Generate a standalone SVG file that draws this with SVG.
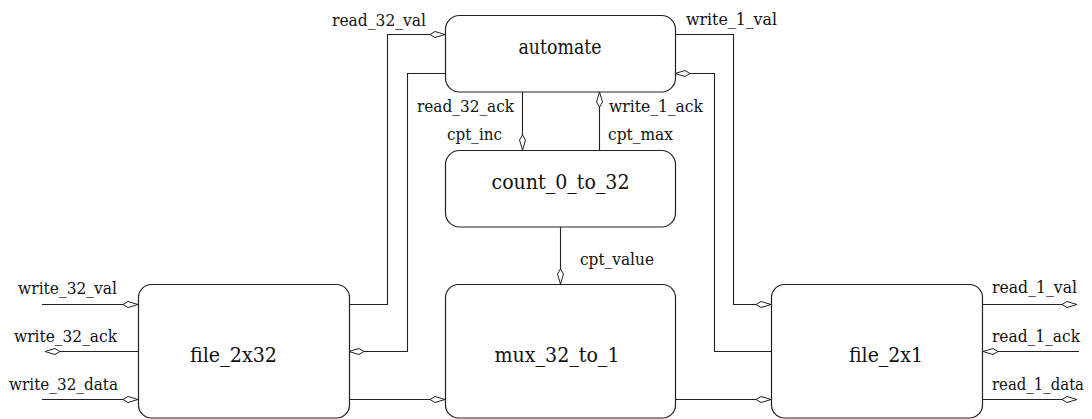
<svg xmlns="http://www.w3.org/2000/svg" width="1092" height="419" viewBox="0 0 1092 419">
<style>
.box{fill:#fff;stroke:#222;stroke-width:1.2}
.w{fill:none;stroke:#222;stroke-width:1.1}
text{fill:#111;font-family:'DejaVu Serif',serif}
.nt{font-size:21px;text-anchor:middle}
.lt{font-size:17.5px}
.e{text-anchor:end}
</style>
<defs>
<marker id="dia" viewBox="0 0 16 8" refX="15.5" refY="4" markerWidth="16" markerHeight="8" markerUnits="userSpaceOnUse" orient="auto">
<path d="M0.5,4 L5.5,1 L15.5,4 L5.5,7 Z" fill="#fff" stroke="#222" stroke-width="1"/>
</marker>
</defs>
<rect width="1092" height="419" fill="#fff"/>
<g id="connectors">
<path class="w" d="M349,304.5 H387.5 V34.5 H445" marker-end="url(#dia)"/>
<path class="w" d="M445,73.5 H407.5 V351.5 H349" marker-end="url(#dia)"/>
<path class="w" d="M522.5,92 V150" marker-end="url(#dia)"/>
<path class="w" d="M599.5,150 V92" marker-end="url(#dia)"/>
<path class="w" d="M560.5,227 V284" marker-end="url(#dia)"/>
<path class="w" d="M675,34.5 H733.5 V304.5 H771" marker-end="url(#dia)"/>
<path class="w" d="M771,351.5 H714.5 V73.5 H675" marker-end="url(#dia)"/>
<path class="w" d="M349,399.5 H445" marker-end="url(#dia)"/>
<path class="w" d="M675,399.5 H771" marker-end="url(#dia)"/>
<path class="w" d="M42,304.5 H138" marker-end="url(#dia)"/>
<path class="w" d="M138,351.5 H45" marker-end="url(#dia)"/>
<path class="w" d="M42,399.5 H138" marker-end="url(#dia)"/>
<path class="w" d="M983,304.5 H1077" marker-end="url(#dia)"/>
<path class="w" d="M1079,351.5 H983" marker-end="url(#dia)"/>
<path class="w" d="M983,399.5 H1077" marker-end="url(#dia)"/>
</g>
<g id="labels">
<text class="lt e" x="426" y="26" textLength="94" lengthAdjust="spacingAndGlyphs">read_32_val</text>
<text class="lt" x="686" y="25" textLength="91" lengthAdjust="spacingAndGlyphs">write_1_val</text>
<text class="lt e" x="514" y="112" textLength="97" lengthAdjust="spacingAndGlyphs">read_32_ack</text>
<text class="lt e" x="502" y="140" textLength="55" lengthAdjust="spacingAndGlyphs">cpt_inc</text>
<text class="lt" x="609" y="112" textLength="94" lengthAdjust="spacingAndGlyphs">write_1_ack</text>
<text class="lt" x="608" y="140" textLength="65" lengthAdjust="spacingAndGlyphs">cpt_max</text>
<text class="lt" x="580" y="265" textLength="74" lengthAdjust="spacingAndGlyphs">cpt_value</text>
<text class="lt e" x="117" y="294" textLength="99" lengthAdjust="spacingAndGlyphs">write_32_val</text>
<text class="lt e" x="117" y="342" textLength="103" lengthAdjust="spacingAndGlyphs">write_32_ack</text>
<text class="lt e" x="118" y="390" textLength="109" lengthAdjust="spacingAndGlyphs">write_32_data</text>
<text class="lt" x="992" y="293" textLength="85" lengthAdjust="spacingAndGlyphs">read_1_val</text>
<text class="lt" x="992" y="342" textLength="88" lengthAdjust="spacingAndGlyphs">read_1_ack</text>
<text class="lt" x="992" y="390" font-size="16.5" textLength="92" lengthAdjust="spacingAndGlyphs">read_1_data</text>
</g>
<g id="automate">
<rect class="box" x="445.5" y="15.5" width="230" height="76.5" rx="14"/>
<text class="nt" x="560" y="54" textLength="83" lengthAdjust="spacingAndGlyphs">automate</text>
</g>
<g id="count_0_to_32">
<rect class="box" x="445.5" y="150.5" width="230" height="76.5" rx="14"/>
<text class="nt" x="560.5" y="189" textLength="138" lengthAdjust="spacingAndGlyphs">count_0_to_32</text>
</g>
<g id="file_2x32">
<rect class="box" x="138.5" y="284.5" width="211" height="133.5" rx="13"/>
<text class="nt" x="233.5" y="362" textLength="87" lengthAdjust="spacingAndGlyphs">file_2x32</text>
</g>
<g id="mux_32_to_1">
<rect class="box" x="445.5" y="284.5" width="230" height="133.5" rx="13"/>
<text class="nt" x="557" y="362" textLength="125" lengthAdjust="spacingAndGlyphs">mux_32_to_1</text>
</g>
<g id="file_2x1">
<rect class="box" x="771.5" y="284.5" width="211" height="133.5" rx="13"/>
<text class="nt" x="886" y="362" textLength="74" lengthAdjust="spacingAndGlyphs">file_2x1</text>
</g>
</svg>
